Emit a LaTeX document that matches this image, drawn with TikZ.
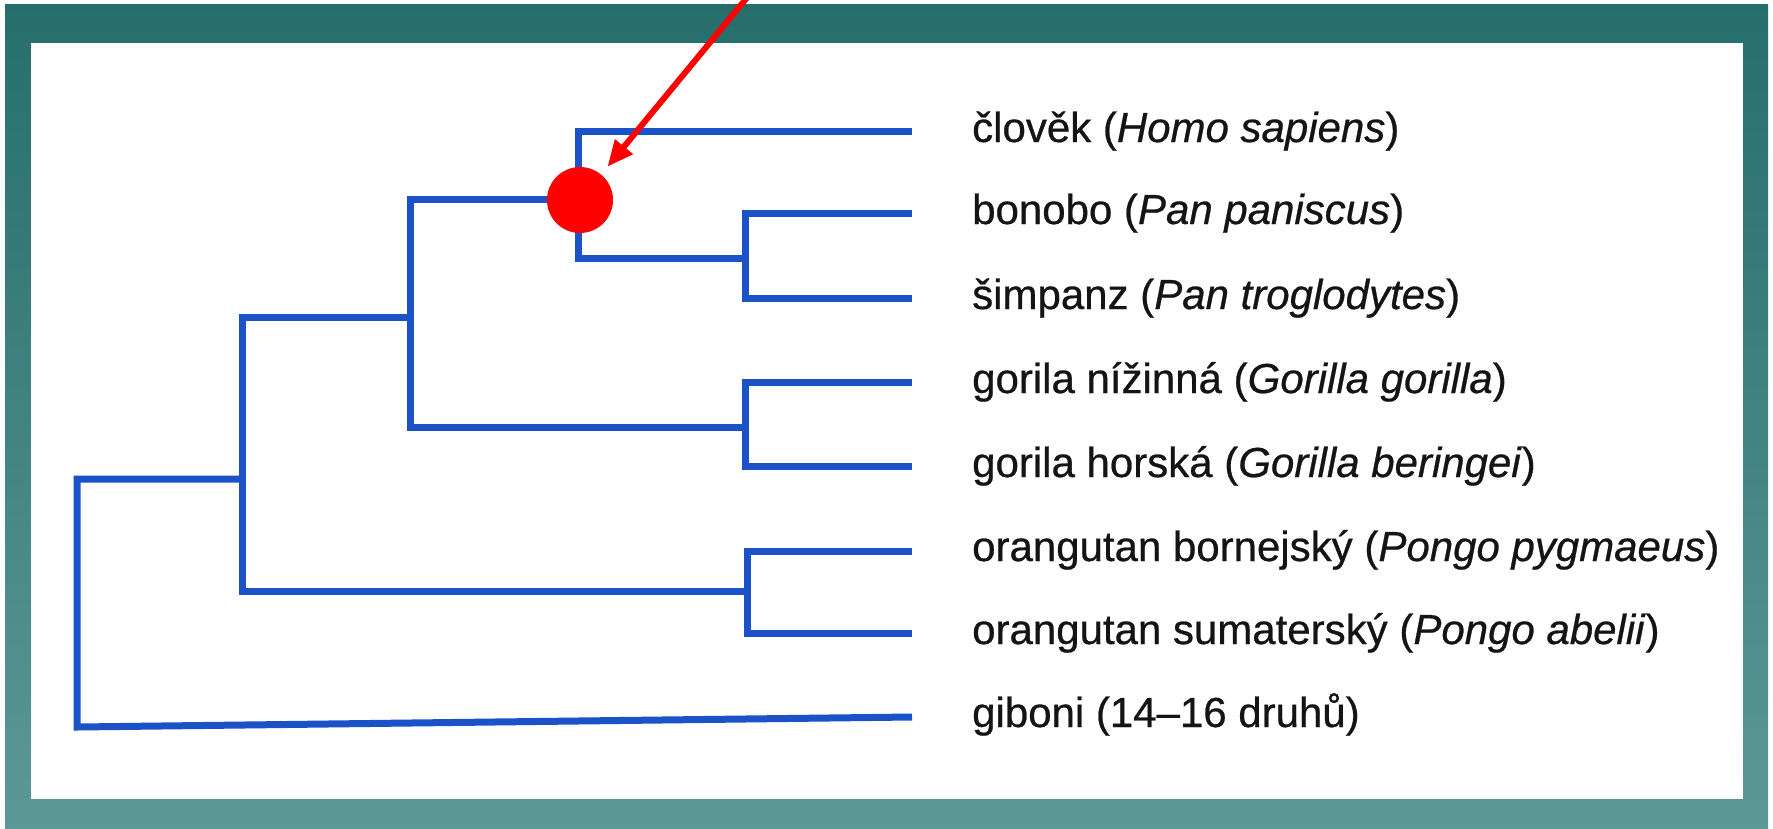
\documentclass[tikz,border=0pt]{standalone}
\usepackage{fontspec}
\setmainfont{Liberation Sans}[UprightFeatures={FakeBold=0.6},ItalicFeatures={FakeBold=0.6}]
\usetikzlibrary{arrows.meta}
\definecolor{tealtop}{RGB}{38,110,108}
\definecolor{tealbot}{RGB}{92,152,150}
\definecolor{treeblue}{RGB}{28,82,200}
\definecolor{ink}{RGB}{20,20,20}
\begin{document}
\begin{tikzpicture}[x=1pt,y=-1pt,
  branch/.style={draw=treeblue, line width=7pt, line join=miter},
  taxon/.style={anchor=base west, inner sep=0pt, text=ink, font=\fontsize{42}{50}\selectfont},
  reddot/.style={circle, fill=red, minimum size=66pt, inner sep=0pt},
  redarrow/.style={draw=red, line width=6pt, -{Triangle[length=26pt,width=22pt]}, shorten >=10pt}]
\useasboundingbox (0,0) rectangle (1773,828);
\fill[white] (0,0) rectangle (1773,828);
\shade[top color=tealtop, bottom color=tealbot] (5,4) rectangle (1768,828);
\fill[white] (31,43) rectangle (1743,799);

% leaves
\coordinate (lHum) at (912,131);
\coordinate (lBon) at (912,213);
\coordinate (lSim) at (912,298);
\coordinate (lGg)  at (912,382);
\coordinate (lGb)  at (912,466);
\coordinate (lPp)  at (912,551);
\coordinate (lPa)  at (912,633);
\coordinate (lGib) at (912,717);
% internal nodes
\coordinate (nPan) at (745,258);
\coordinate (nHP)  at (578,199);
\coordinate (nGor) at (745,427);
\coordinate (nAfr) at (410,317);
\coordinate (nOr)  at (747,591);
\coordinate (nGH)  at (242,479);
\coordinate (nRoot) at (77,600);
\coordinate (cGib) at (77,727);

\draw[branch] (lBon) -| (nPan) |- (lSim);
\draw[branch] (lHum) -| (nHP) |- (nPan);
\draw[branch] (lGg) -| (nGor) |- (lGb);
\draw[branch] (nHP) -| (nAfr) |- (nGor);
\draw[branch] (lPp) -| (nOr) |- (lPa);
\draw[branch] (nAfr) -| (nGH) |- (nOr);
\draw[branch] (nGH) -| (nRoot) -- (cGib) -- (lGib);

% labels
\node[taxon] (tHum) at (972,142) {člověk (\textit{Homo sapiens})};
\node[taxon] (tBon) at (972,224) {bonobo (\textit{Pan paniscus})};
\node[taxon] (tSim) at (972,309) {šimpanz (\textit{Pan troglodytes})};
\node[taxon] (tGg)  at (972,393) {gorila nížinná (\textit{Gorilla gorilla})};
\node[taxon] (tGb)  at (972,477) {gorila horská (\textit{Gorilla beringei})};
\node[taxon] (tPp)  at (972,561) {orangutan bornejský (\textit{Pongo pygmaeus})};
\node[taxon] (tPa)  at (972,644) {orangutan sumaterský (\textit{Pongo abelii})};
\node[taxon] (tGib) at (972,727) {giboni (14–16 druhů)};

% red marker
\node[reddot] (dot) at (580,200) {};
\coordinate (arrStart) at (750,-6);
\draw[redarrow] (arrStart) -- (dot);
\end{tikzpicture}
\end{document}
